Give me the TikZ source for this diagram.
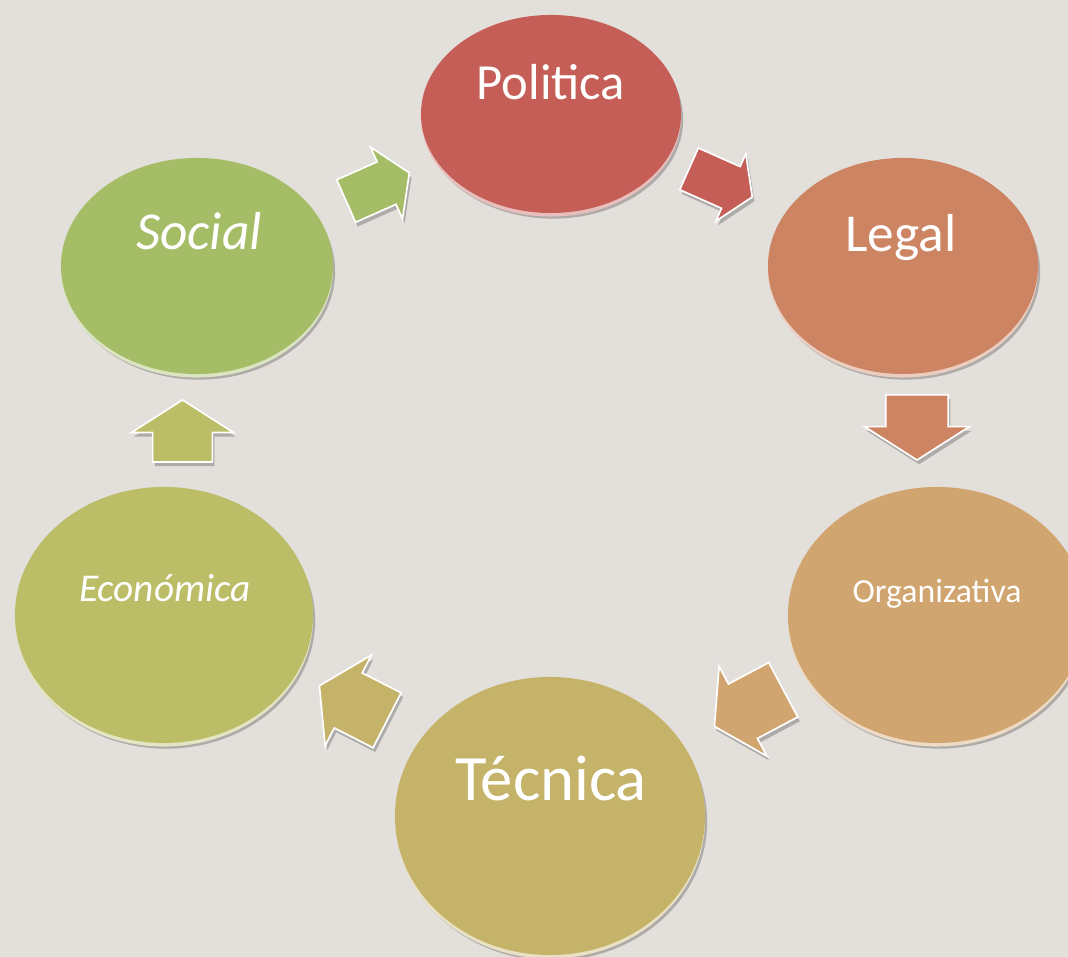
\documentclass[tikz,border=0pt]{standalone}
\usepackage{fontspec}
\setmainfont{Carlito}
\usetikzlibrary{shapes.geometric,shapes.arrows,shadows,calc,positioning}

\definecolor{bgc}{HTML}{E3DFDB}
\definecolor{polc}{HTML}{C55E57}
\definecolor{legc}{HTML}{CD8462}
\definecolor{orgc}{HTML}{D1A56F}
\definecolor{tecc}{HTML}{C5B36A}
\definecolor{ecoc}{HTML}{BBBD67}
\definecolor{socc}{HTML}{A5BD66}

\begin{document}
\begin{tikzpicture}[x=0.025cm,y=0.025cm,
	disc/.style={ellipse,inner sep=0pt,fill=#1,
		drop shadow={shadow xshift=1.5pt,shadow yshift=-4pt,opacity=0.35,fill=black!70},
		preaction={fill=#1!40!white,transform canvas={yshift=-2.5pt}}},
	lbl/.style={text=white,anchor=base,inner sep=0pt},
	blk/.style={single arrow,inner xsep=0pt,fill=#1,draw=white,line width=1.2pt,
		single arrow tip angle=115,
		drop shadow={shadow xshift=1.5pt,shadow yshift=-3pt,opacity=0.35,fill=black!70}}]
	\fill[bgc] (0,0) rectangle (1068,957);
	\useasboundingbox (0,0) rectangle (1068,957);
	\clip (0,0) rectangle (1068,957);
	% discs
	\node [disc=polc, minimum width=6.5cm, minimum height=4.95cm] (pol) at (551,843) {};
	\node [disc=legc, minimum width=6.75cm, minimum height=5.4cm] (leg) at (903,691) {};
	\node [disc=orgc, minimum width=7.45cm, minimum height=6.4cm] (org) at (937,342) {};
	\node [disc=tecc, minimum width=7.75cm, minimum height=6.95cm] (tec) at (550,141) {};
	\node [disc=ecoc, minimum width=7.45cm, minimum height=6.4cm] (eco) at (164,342) {};
	\node [disc=socc, minimum width=6.8cm, minimum height=5.4cm] (soc) at (197,691) {};
	% labels
	\node [lbl, font=\fontsize{36}{40}\selectfont] (polt) at (551,857) {Politica};
	\node [lbl, font=\fontsize{38}{42}\selectfont] (legt) at (901,705) {Legal};
	\node [lbl, font=\fontsize{24}{28}\selectfont] (orgt) at (937,354) {Organizativa};
	\node [lbl, font=\fontsize{46}{50}\selectfont] (tect) at (551,156) {Técnica};
	\node [lbl, font=\fontsize{28}{32}\selectfont\itshape] (ecot) at (165,355) {Económica};
	\node [lbl, font=\fontsize{38}{42}\selectfont\itshape] (soct) at (199,707) {Social};
	% block arrows
	\node [blk=socc, rotate=24, minimum height=1.73cm, inner ysep=0.56cm,
		single arrow head extend=0.4cm] (a1) at ($(soc)!0.5!(pol)+(-3,0)$) {};
	\node [blk=polc, rotate=-24, minimum height=1.73cm, inner ysep=0.55cm,
		single arrow head extend=0.35cm] (a2) at ($(pol)!0.5!(leg)+(-13,10)$) {};
	\node [blk=legc, rotate=-90, minimum height=1.63cm, inner ysep=0.76cm,
		single arrow head extend=0.53cm] (a3) at ($(leg)!0.5!(org)+(-3,23)$) {};
	\node [blk=orgc, rotate=208, minimum height=1.95cm, inner ysep=0.75cm,
		single arrow head extend=0.5cm] (a4) at ($(org)!0.5!(tec)+(14,12)$) {};
	\node [blk=tecc, rotate=153, minimum height=1.9cm, inner ysep=0.75cm,
		single arrow head extend=0.5cm] (a5) at ($(tec)!0.5!(eco)+(5,8)$) {};
	\node [blk=ecoc, rotate=90, minimum height=1.55cm, inner ysep=0.725cm,
		single arrow head extend=0.53cm] (a6) at ($(eco)!0.5!(soc)+(2,0)$) {};
\end{tikzpicture}
\end{document}
